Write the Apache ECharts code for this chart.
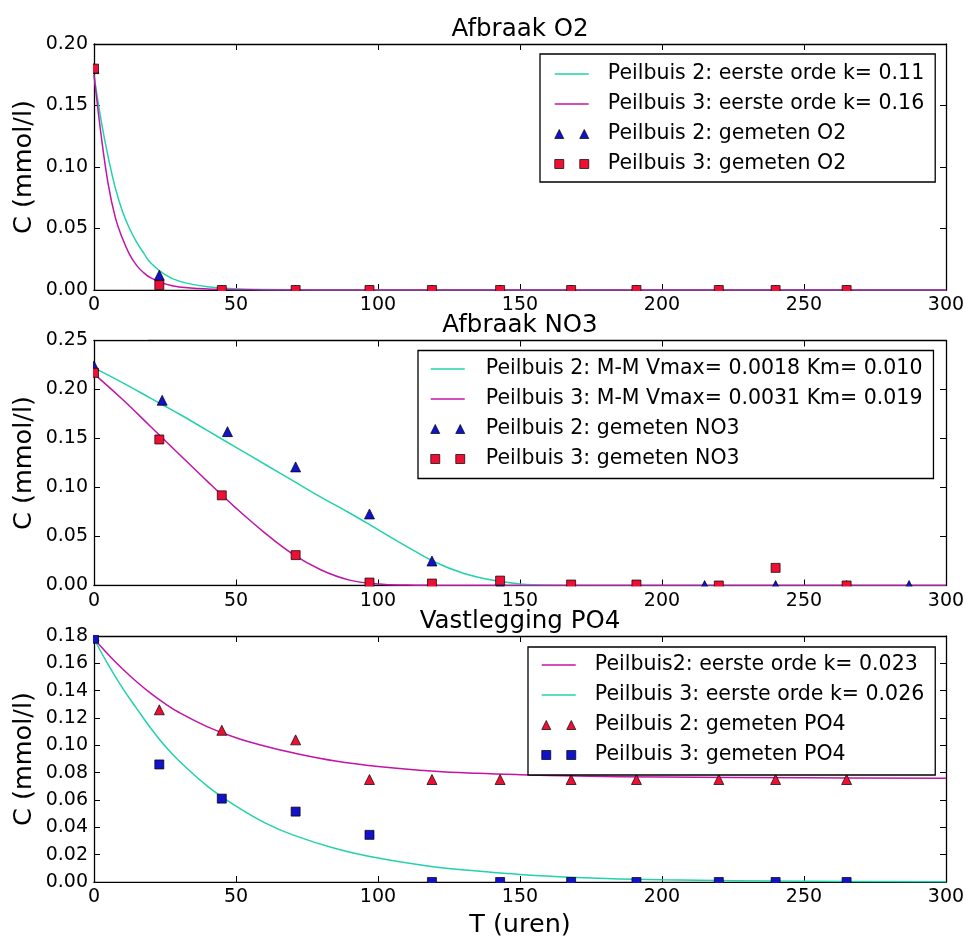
<!DOCTYPE html>
<html>
<head>
<meta charset="utf-8">
<title>Afbraak O2 / NO3, vastlegging PO4</title>
<script src="https://cdn.jsdelivr.net/npm/echarts@6/dist/echarts.min.js"></script>
<style>
  html, body { margin: 0; padding: 0; background: #fff; }
  #chart { width: 966px; height: 938px; }
</style>
</head>
<body>
<div id="chart"></div>
<script>
// ---- sampling times (uren) ----
const hoursMeasured = [0, 23, 45, 71, 97, 119, 143, 168, 191, 220, 240, 265];
const hoursNO3Peilbuis2 = [0, 24, 47, 71, 97, 119, 143, 168, 191, 215, 240, 265, 287];

// ---- Afbraak O2 (mmol/l) ----
const o2Peilbuis2 = [0.180, 0.012, 0, 0, 0, 0, 0, 0, 0, 0, 0, 0];
const o2Peilbuis3 = [0.180, 0.004, 0, 0, 0, 0, 0, 0, 0, 0, 0, 0];
const o2FitHours = [0, 2.5, 5, 7.5, 10, 12.5, 15, 17.5, 20, 25, 30, 40, 50, 60, 80, 100, 300];
const o2FitPeilbuis2 = [0.175, 0.138, 0.108, 0.083, 0.064, 0.050, 0.039, 0.030, 0.022, 0.0125, 0.0072, 0.0026, 0.0010, 0.0004, 0.0001, 0, 0];
const o2FitPeilbuis3 = [0.175, 0.126, 0.086, 0.059, 0.042, 0.029, 0.020, 0.014, 0.0098, 0.0050, 0.0025, 0.0008, 0.0003, 0.0001, 0, 0, 0];

// ---- Afbraak NO3 (mmol/l) ----
const no3Peilbuis2 = [0.224, 0.189, 0.157, 0.121, 0.073, 0.025, 0.002, 0, 0, 0, 0, 0, 0];
const no3Peilbuis3 = [0.217, 0.149, 0.092, 0.031, 0.003, 0.002, 0.005, 0.001, 0.001, 0, 0.018, 0];
const no3FitHours = [0, 10, 20, 30, 40, 50, 60, 70, 80, 90, 100, 110, 120, 130, 140, 150, 160, 175, 300];
const no3FitPeilbuis2 = [0.222, 0.207, 0.191, 0.175, 0.158, 0.141, 0.124, 0.107, 0.090, 0.074, 0.057, 0.040, 0.024, 0.0125, 0.0055, 0.0016, 0.0003, 0, 0];
const no3FitPeilbuis3 = [0.216, 0.190, 0.162, 0.134, 0.106, 0.079, 0.054, 0.032, 0.0158, 0.0055, 0.0016, 0.0004, 0.0001, 0, 0, 0, 0, 0, 0];

// ---- Vastlegging PO4 (mmol/l) ----
const po4Peilbuis2 = [0.180, 0.126, 0.111, 0.104, 0.075, 0.075, 0.075, 0.075, 0.075, 0.075, 0.075, 0.075];
const po4Peilbuis3 = [0.178, 0.086, 0.061, 0.0515, 0.0345, 0, 0, 0, 0, 0, 0, 0];
const po4FitHours = [0, 5, 10, 15, 20, 25, 30, 40, 50, 60, 70, 85, 100, 120, 135, 150, 170, 200, 250, 300];
const po4FitPeilbuis2 = [0.178, 0.1665, 0.156, 0.1465, 0.138, 0.1305, 0.124, 0.1135, 0.1055, 0.0995, 0.0945, 0.0885, 0.0845, 0.0810, 0.0795, 0.0785, 0.0775, 0.0768, 0.0763, 0.0760];
const po4FitPeilbuis3 = [0.178, 0.159, 0.142, 0.127, 0.1125, 0.0995, 0.0885, 0.070, 0.0555, 0.0435, 0.0345, 0.0245, 0.0175, 0.011, 0.008, 0.0055, 0.0033, 0.0016, 0.0005, 0.0001];

// ---- axis ticks ----
const xTicks = { min: 0, max: 300, interval: 50 };
const yTicksO2 = { min: 0, max: 0.20, interval: 0.05 };
const yTicksNO3 = { min: 0, max: 0.25, interval: 0.05 };
const yTicksPO4 = { min: 0, max: 0.18, interval: 0.02 };

const panelTitles = ['Afbraak O2', 'Afbraak NO3', 'Vastlegging PO4'];
const yName = 'C (mmol/l)';
const xName = 'T (uren)';

const names = {
  o2Fit2: 'Peilbuis 2: eerste orde k= 0.11',
  o2Fit3: 'Peilbuis 3: eerste orde k= 0.16',
  o2Meas2: 'Peilbuis 2: gemeten O2',
  o2Meas3: 'Peilbuis 3: gemeten O2',
  no3Fit2: 'Peilbuis 2: M-M Vmax= 0.0018 Km= 0.010',
  no3Fit3: 'Peilbuis 3: M-M Vmax= 0.0031 Km= 0.019',
  no3Meas2: 'Peilbuis 2: gemeten NO3',
  no3Meas3: 'Peilbuis 3: gemeten NO3',
  po4Fit2: 'Peilbuis2: eerste orde k= 0.023',
  po4Fit3: 'Peilbuis 3: eerste orde k= 0.026',
  po4Meas2: 'Peilbuis 2: gemeten PO4',
  po4Meas3: 'Peilbuis 3: gemeten PO4'
};

// ---- styling ----
const FONT = 'DejaVu Sans';
const CYAN = '#22d2aa';
const MAGENTA = '#c214a6';
const BLUE = '#1212c8';
const RED = '#ee1034';

// panel frames: [top, height]
const frames = [[44, 246], [340.5, 245], [636, 246]];
const GRID_LEFT = 94;
const GRID_RIGHT = 20;
const CHART_W = 966;

const pairs = (xs, ys) => xs.map((x, i) => [x, ys[i]]);

function lineSeries(name, gi, hours, values, color) {
  return {
    type: 'line', name, xAxisIndex: gi, yAxisIndex: gi,
    data: pairs(hours, values),
    color, symbol: 'none', showSymbol: false,
    smooth: 0.4, clip: true,
    lineStyle: { color, width: 1.5 },
    emphasis: { disabled: true }, z: 2
  };
}

function scatterSeries(name, gi, hours, values, symbol, color) {
  return {
    type: 'scatter', name, xAxisIndex: gi, yAxisIndex: gi,
    data: pairs(hours, values),
    symbol, symbolSize: symbol === 'triangle' ? [10, 10] : 9,
    itemStyle: { color, borderColor: '#000', borderWidth: 0.7, opacity: 1 },
    emphasis: { disabled: true }, z: 3
  };
}

const tickStyle = { show: true, inside: true, length: 6, lineStyle: { color: '#000', width: 1 } };
const spine = { show: true, onZero: false, lineStyle: { color: '#000', width: 1.3 } };

const xAxes = [];
const yAxes = [];
const yTickSets = [yTicksO2, yTicksNO3, yTicksPO4];
for (let gi = 0; gi < 3; gi++) {
  xAxes.push({
    type: 'value', gridIndex: gi, position: 'bottom', ...xTicks,
    axisLine: spine, axisTick: tickStyle, splitLine: { show: false },
    axisLabel: { color: '#000', fontSize: 19, fontFamily: FONT, margin: 6 },
    name: gi === 2 ? xName : '', nameLocation: 'middle', nameGap: 30,
    nameTextStyle: { color: '#000', fontSize: 25.5, fontFamily: FONT },
    nameMoveOverlap: false
  });
  yAxes.push({
    type: 'value', gridIndex: gi, position: 'left', ...yTickSets[gi],
    axisLine: spine, axisTick: tickStyle, splitLine: { show: false },
    axisLabel: { color: '#000', fontSize: 19, fontFamily: FONT, margin: 6,
                 formatter: v => v.toFixed(2) },
    name: yName, nameLocation: 'middle', nameGap: 57, nameRotate: 90,
    nameTextStyle: { color: '#000', fontSize: 25.5, fontFamily: FONT },
    nameMoveOverlap: false
  });
}
// top and right frame edges with inward ticks
for (let gi = 0; gi < 3; gi++) {
  xAxes.push({
    type: 'value', gridIndex: gi, position: 'top', ...xTicks,
    axisLine: spine, axisTick: tickStyle, splitLine: { show: false },
    axisLabel: { show: false }
  });
  yAxes.push({
    type: 'value', gridIndex: gi, position: 'right', ...yTickSets[gi],
    axisLine: spine, axisTick: tickStyle, splitLine: { show: false },
    axisLabel: { show: false }
  });
}

const grids = frames.map(([top, height]) => ({
  left: GRID_LEFT, right: GRID_RIGHT, top, height,
  containLabel: false, outerBoundsMode: 'none'
}));

const titleTops = [17.5, 313.5, 609];
const titles = panelTitles.map((text, i) => ({
  text, left: GRID_LEFT + (CHART_W - GRID_LEFT - GRID_RIGHT) / 2, top: titleTops[i],
  textAlign: 'center', padding: 0, z: 60,
  textStyle: { color: '#000', fontSize: 24.5, fontWeight: 'normal', fontFamily: FONT }
}));

const triangleIcon = 'path://M0,9L4.5,0L9,9Z M25,9L29.5,0L34,9Z';
const squareIcon = 'path://M0,0H9V9H0Z M25,0H34V9H25Z';
const lineItem = name => ({ name, itemStyle: { opacity: 0 } });

function legendBox(left, top, padTop, padLeft, textPad, items) {
  return {
    orient: 'vertical', left, top,
    itemWidth: 34, itemHeight: 9, itemGap: 0,
    padding: [padTop, 11, 8 - padTop, padLeft],
    borderColor: '#000', borderWidth: 1.3, backgroundColor: '#fff',
    selectedMode: false,
    textStyle: { color: '#000', fontSize: 20.5, fontFamily: FONT, lineHeight: 30,
                 padding: [0, 0, 0, textPad] },
    itemStyle: { borderColor: '#000', borderWidth: 0.7 },
    lineStyle: { width: 1.5 },
    data: items
  };
}

const legends = [
  legendBox(540, 54, 5, 14, 14, [
    lineItem(names.o2Fit2), lineItem(names.o2Fit3),
    { name: names.o2Meas2, icon: triangleIcon },
    { name: names.o2Meas3, icon: squareIcon }
  ]),
  legendBox(418, 350.5, 3.5, 12, 16, [
    lineItem(names.no3Fit2), lineItem(names.no3Fit3),
    { name: names.no3Meas2, icon: triangleIcon },
    { name: names.no3Meas3, icon: squareIcon }
  ]),
  legendBox(528, 647, 3, 13, 14, [
    lineItem(names.po4Fit2), lineItem(names.po4Fit3),
    { name: names.po4Meas2, icon: triangleIcon },
    { name: names.po4Meas3, icon: squareIcon }
  ])
];

const series = [
  lineSeries(names.o2Fit2, 0, o2FitHours, o2FitPeilbuis2, CYAN),
  lineSeries(names.o2Fit3, 0, o2FitHours, o2FitPeilbuis3, MAGENTA),
  scatterSeries(names.o2Meas2, 0, hoursMeasured, o2Peilbuis2, 'triangle', BLUE),
  scatterSeries(names.o2Meas3, 0, hoursMeasured, o2Peilbuis3, 'rect', RED),

  lineSeries(names.no3Fit2, 1, no3FitHours, no3FitPeilbuis2, CYAN),
  lineSeries(names.no3Fit3, 1, no3FitHours, no3FitPeilbuis3, MAGENTA),
  scatterSeries(names.no3Meas2, 1, hoursNO3Peilbuis2, no3Peilbuis2, 'triangle', BLUE),
  scatterSeries(names.no3Meas3, 1, hoursMeasured, no3Peilbuis3, 'rect', RED),

  lineSeries(names.po4Fit2, 2, po4FitHours, po4FitPeilbuis2, MAGENTA),
  lineSeries(names.po4Fit3, 2, po4FitHours, po4FitPeilbuis3, CYAN),
  scatterSeries(names.po4Meas2, 2, hoursMeasured, po4Peilbuis2, 'triangle', RED),
  scatterSeries(names.po4Meas3, 2, hoursMeasured, po4Peilbuis3, 'rect', BLUE)
];

// white strips just outside each frame so markers sitting on an edge are cut off there
const edgeMasks = [];
frames.forEach(([top, height]) => {
  const bottom = top + height;
  edgeMasks.push({ type: 'rect', z: 50, silent: true,
    shape: { x: GRID_LEFT - 6, y: bottom + 1, width: CHART_W - GRID_LEFT - GRID_RIGHT + 12, height: 5 },
    style: { fill: '#fff' } });
  edgeMasks.push({ type: 'rect', z: 50, silent: true,
    shape: { x: GRID_LEFT - 5.5, y: top - 6, width: 4.5, height: height + 12 },
    style: { fill: '#fff' } });
  edgeMasks.push({ type: 'rect', z: 50, silent: true,
    shape: { x: GRID_LEFT - 6, y: top - 5, width: 60, height: 4 },
    style: { fill: '#fff' } });
});

const chart = echarts.init(document.getElementById('chart'), null, { renderer: 'canvas' });
chart.setOption({
  animation: false,
  backgroundColor: '#fff',
  title: titles,
  grid: grids,
  xAxis: xAxes,
  yAxis: yAxes,
  legend: legends,
  series,
  graphic: edgeMasks
});
</script>
</body>
</html>
